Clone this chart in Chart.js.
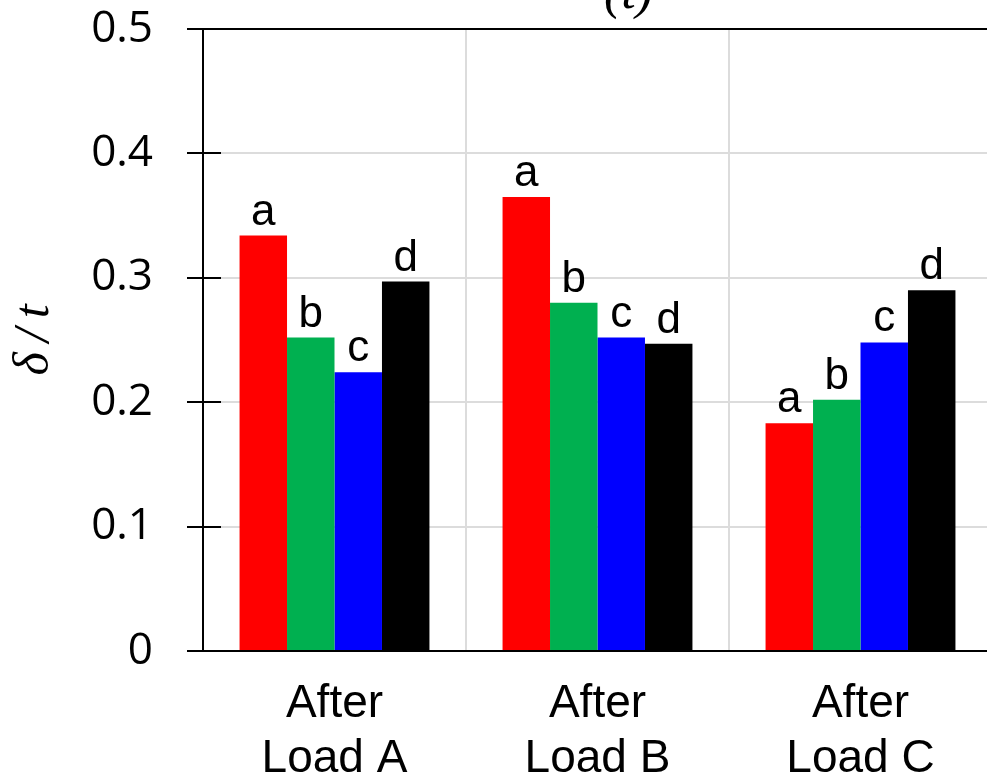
<!DOCTYPE html>
<html>
<head>
<meta charset="utf-8">
<script src="https://cdn.jsdelivr.net/npm/chart.js@4.4.1/dist/chart.umd.min.js"></script>
<style>
  html, body { margin: 0; padding: 0; background: #fff; overflow: hidden; }
  #wrap { position: absolute; left: 0; top: -45px; width: 1010px; height: 828px; }
</style>
</head>
<body>
<div id="wrap"><canvas id="grafico"></canvas></div>
<script>
const categorias = [['After', 'Load A'], ['After', 'Load B'], ['After', 'Load C']];
const serieA = [0.334, 0.365, 0.183];
const serieB = [0.252, 0.280, 0.202];
const serieC = [0.224, 0.252, 0.248];
const serieD = [0.297, 0.247, 0.290];
const letras = ['a', 'b', 'c', 'd'];
const cores = ['#ff0000', '#00b050', '#0000ff', '#000000'];
const yTicks = [0, 0.1, 0.2, 0.3, 0.4, 0.5];
const titulo = '(t)';

const series = [serieA, serieB, serieC, serieD];

// letras em cima de cada barra
const letrasPlugin = {
  id: 'letras',
  afterDatasetsDraw(chart) {
    const ctx = chart.ctx;
    ctx.save();
    ctx.font = '44px "Liberation Sans", Arial, sans-serif';
    ctx.fillStyle = '#000';
    ctx.textAlign = 'center';
    ctx.textBaseline = 'alphabetic';
    chart.data.datasets.forEach((ds, i) => {
      chart.getDatasetMeta(i).data.forEach(bar => {
        ctx.fillText(ds.label, bar.x, bar.y - 11);
      });
    });
    ctx.restore();
  }
};

// tracinhos do eixo Y cruzando para dentro + titulo do painel
const tracosPlugin = {
  id: 'tracos',
  afterDraw(chart) {
    const ctx = chart.ctx;
    const y = chart.scales.y;
    const area = chart.chartArea;
    ctx.save();
    ctx.strokeStyle = '#000';
    ctx.lineWidth = 2;
    y.ticks.forEach(t => {
      const py = Math.round(y.getPixelForValue(t.value));
      ctx.beginPath();
      ctx.moveTo(y.right, py);
      ctx.lineTo(y.right + 18, py);
      ctx.stroke();
    });
    ctx.font = 'italic 52px "Liberation Serif", serif';
    ctx.fillStyle = '#000';
    ctx.textAlign = 'center';
    ctx.textBaseline = 'alphabetic';
    ctx.fillText(titulo, (area.left + area.right) / 2 + 31, area.top - 21);
    ctx.restore();
  }
};

const ctx = document.getElementById('grafico').getContext('2d');

const grafico = new Chart(ctx, {
  type: 'bar',
  data: {
    labels: categorias,
    datasets: series.map((s, i) => ({
      label: letras[i],
      data: s,
      backgroundColor: cores[i],
      borderWidth: 0,
      categoryPercentage: 0.722,
      barPercentage: 1
    }))
  },
  options: {
    responsive: true,
    maintainAspectRatio: false,
    animation: false,
    layout: { padding: { top: 74, right: 18, left: 0, bottom: 0 } },
    plugins: {
      legend: { display: false },
      tooltip: { enabled: false },
      title: { display: false }
    },
    scales: {
      x: {
        afterFit(scale) { scale.height = 132; },
        grid: {
          color: '#dcdcdc',
          lineWidth: 2,
          drawTicks: false
        },
        border: { display: true, color: '#000', width: 2 },
        ticks: {
          color: '#000',
          padding: 26,
          font: { family: '"Liberation Sans", Arial, sans-serif', size: 46 }
        }
      },
      y: {
        min: 0,
        max: 0.5,
        afterFit(scale) { scale.width = 203; },
        afterBuildTicks(scale) { scale.ticks = yTicks.map(v => ({ value: v })); },
        grid: {
          color: c => (c.tick && (c.tick.value === 0 || c.tick.value === 0.5)) ? '#000' : '#dcdcdc',
          lineWidth: 2,
          tickColor: '#000',
          tickLength: 16,
          tickWidth: 2
        },
        border: { display: true, color: '#000', width: 2 },
        ticks: {
          color: '#000',
          padding: 34,
          font: { family: '"Open Sans", sans-serif', size: 44 },
          callback: v => v === 0 ? '0' : v.toFixed(1)
        },
        title: {
          display: true,
          text: 'δ\u2009/\u2009t',
          color: '#000',
          font: { family: '"Liberation Serif", serif', size: 50, style: 'italic' },
          padding: { top: 5, bottom: 0 }
        }
      }
    }
  },
  plugins: [letrasPlugin, tracosPlugin]
});
</script>
</body>
</html>
